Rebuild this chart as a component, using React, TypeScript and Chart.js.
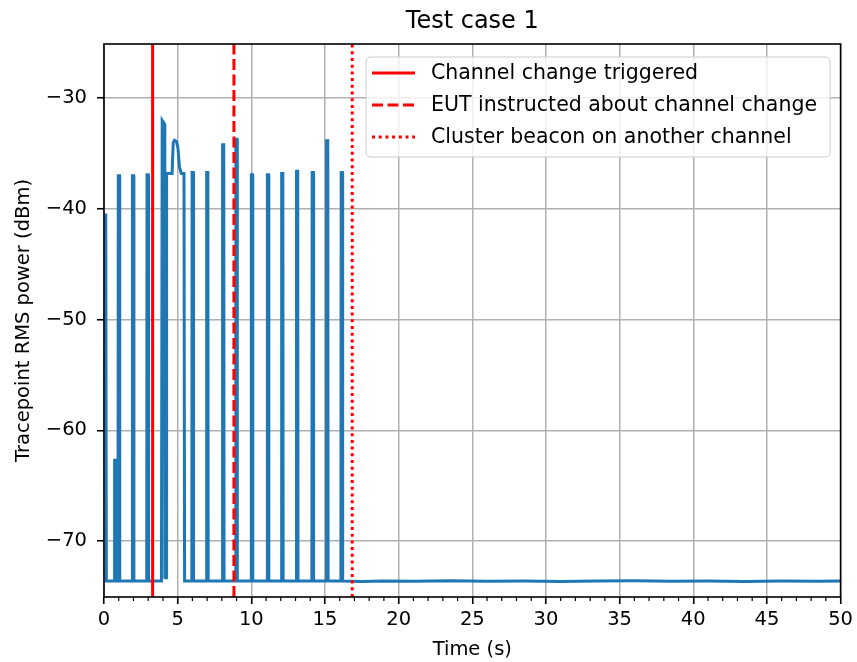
import React, { useEffect, useRef } from "react";
import { Chart, registerables } from "chart.js";

Chart.register(...registerables);

// ---- data ----
const traceTime = [
  0.12, 0.16, 0.70, 0.72, 0.79, 0.81,
  0.95, 0.97, 1.05, 1.07,
  1.91, 1.93, 2.01, 2.03,
  2.90, 2.92, 3.00, 3.02,
  3.90, 3.95, 4.10, 4.13, 4.17, 4.21, 4.25, 4.62, 4.70, 4.78, 4.92, 5.02, 5.12, 5.25, 5.43, 5.47,
  5.96, 5.98, 6.06, 6.08,
  6.95, 6.97, 7.05, 7.07,
  8.03, 8.05, 8.13, 8.15,
  8.93, 8.95, 9.03, 9.05,
  9.98, 10.00, 10.08, 10.10,
  11.07, 11.09, 11.17, 11.19,
  12.04, 12.06, 12.14, 12.16,
  13.05, 13.07, 13.15, 13.17,
  14.11, 14.13, 14.21, 14.23,
  15.09, 15.11, 15.19, 15.21,
  16.08, 16.10, 16.18, 16.20,
  17.5, 19.0, 21.0, 23.5, 26.0, 28.5, 31.0, 33.5, 36.0, 38.5, 41.0, 43.5, 46.0, 48.5, 50.0,
];
const tracePower = [
  -40.4, -73.6, -73.6, -62.7, -62.7, -73.6,
  -73.6, -37.0, -37.0, -73.6,
  -73.6, -37.0, -37.0, -73.6,
  -73.6, -36.9, -36.9, -73.6,
  -73.6, -32.0, -32.3, -73.4, -37.0, -73.3, -36.8, -36.8, -34.0, -33.8, -33.9, -34.5, -36.2, -36.8, -36.8, -73.6,
  -73.6, -36.7, -36.7, -73.6,
  -73.6, -36.7, -36.7, -73.6,
  -73.6, -34.2, -34.2, -73.6,
  -73.6, -33.7, -33.7, -73.6,
  -73.6, -36.9, -36.9, -73.6,
  -73.6, -36.9, -36.9, -73.6,
  -73.6, -36.8, -36.8, -73.6,
  -73.6, -36.6, -36.6, -73.6,
  -73.6, -36.7, -36.7, -73.6,
  -73.6, -33.85, -33.85, -73.6,
  -73.6, -36.7, -36.7, -73.6,
  -73.65, -73.6, -73.62, -73.58, -73.62, -73.6, -73.64, -73.6, -73.58, -73.62, -73.6, -73.64, -73.6, -73.62, -73.6,
];
const eventTimes = [3.3, 8.82, 16.85];
const eventLabels = [
  "Channel change triggered",
  "EUT instructed about channel change",
  "Cluster beacon on another channel",
];
const eventDashes: number[][] = [[], [11, 4.5], [3, 3.7]];
const xTicks = [0, 5, 10, 15, 20, 25, 30, 35, 40, 45, 50];
const xMinorTicks = [
  0, 1, 2, 3, 4, 5, 6, 7, 8, 9, 10, 11, 12, 13, 14, 15, 16, 17, 18, 19, 20, 21, 22, 23, 24, 25,
  26, 27, 28, 29, 30, 31, 32, 33, 34, 35, 36, 37, 38, 39, 40, 41, 42, 43, 44, 45, 46, 47, 48, 49, 50,
];
const yTicks = [-70, -60, -50, -40, -30];
const X_MIN = 0;
const X_MAX = 50;
const Y_MIN = -75.05;
const Y_MAX = -25.1;
const titleText = "Test case 1";
const xLabel = "Time (s)";
const yLabel = "Tracepoint RMS power (dBm)";

const FONT = '"DejaVu Sans", sans-serif';
const TRACE_COLOR = "#1f77b4";
const EVENT_COLOR = "#ff0000";

const decor = {
  id: "decor",
  beforeDraw(chart: any) {
    const { ctx, width, height } = chart;
    ctx.save();
    ctx.fillStyle = "#ffffff";
    ctx.fillRect(0, 0, width, height);
    ctx.restore();
  },
  afterDatasetsDraw(chart: any) {
    const { ctx, chartArea: a, scales } = chart;
    ctx.save();
    ctx.strokeStyle = "#000";
    ctx.lineWidth = 1.2;
    for (const v of xMinorTicks) {
      if (xTicks.includes(v)) continue;
      const px = scales.x.getPixelForValue(v);
      ctx.beginPath();
      ctx.moveTo(px, a.bottom);
      ctx.lineTo(px, a.bottom + 4);
      ctx.stroke();
    }
    ctx.lineWidth = 1.6;
    ctx.strokeRect(a.left, a.top, a.right - a.left, a.bottom - a.top);
    ctx.restore();
  },
  afterDraw(chart: any) {
    const { ctx, chartArea: a } = chart;
    ctx.save();
    ctx.fillStyle = "#000";
    // title
    ctx.font = `24px ${FONT}`;
    ctx.textAlign = "center";
    ctx.textBaseline = "middle";
    ctx.fillText(titleText, (a.left + a.right) / 2, 22);
    // x label
    ctx.font = `19.5px ${FONT}`;
    ctx.fillText(xLabel, (a.left + a.right) / 2, 650);
    // y label
    ctx.save();
    ctx.translate(24, (a.top + a.bottom) / 2);
    ctx.rotate(-Math.PI / 2);
    ctx.fillText(yLabel, 0, 0);
    ctx.restore();

    // legend
    const lx = 366, ly = 57, lw = 464, lh = 100, r = 5;
    ctx.beginPath();
    ctx.moveTo(lx + r, ly);
    ctx.lineTo(lx + lw - r, ly);
    ctx.quadraticCurveTo(lx + lw, ly, lx + lw, ly + r);
    ctx.lineTo(lx + lw, ly + lh - r);
    ctx.quadraticCurveTo(lx + lw, ly + lh, lx + lw - r, ly + lh);
    ctx.lineTo(lx + r, ly + lh);
    ctx.quadraticCurveTo(lx, ly + lh, lx, ly + lh - r);
    ctx.lineTo(lx, ly + r);
    ctx.quadraticCurveTo(lx, ly, lx + r, ly);
    ctx.closePath();
    ctx.fillStyle = "rgba(255,255,255,0.8)";
    ctx.fill();
    ctx.strokeStyle = "#cccccc";
    ctx.lineWidth = 1;
    ctx.stroke();

    const rows = [73, 105, 137];
    eventLabels.forEach((label, i) => {
      const y = rows[i];
      ctx.save();
      ctx.strokeStyle = EVENT_COLOR;
      ctx.lineWidth = 3;
      ctx.setLineDash(eventDashes[i]);
      ctx.beginPath();
      ctx.moveTo(372, y);
      ctx.lineTo(415, y);
      ctx.stroke();
      ctx.restore();
      ctx.fillStyle = "#000";
      ctx.font = `20.5px ${FONT}`;
      ctx.textAlign = "left";
      ctx.textBaseline = "middle";
      ctx.fillText(label, 431, y + 1);
    });
    ctx.restore();
  },
};

export default function App() {
  const canvasRef = useRef<HTMLCanvasElement | null>(null);

  useEffect(() => {
    const canvas = canvasRef.current;
    if (!canvas) return;

    const tracePoints = traceTime.map((t, i) => ({ x: t, y: tracePower[i] }));
    const eventSets = eventTimes.map((t, i) => ({
      label: eventLabels[i],
      data: [
        { x: t, y: Y_MIN },
        { x: t, y: Y_MAX },
      ],
      borderColor: EVENT_COLOR,
      borderWidth: 3,
      borderDash: eventDashes[i],
      pointRadius: 0,
      fill: false,
      order: 1,
    }));

    const chart = new Chart(canvas, {
      type: "line",
      data: {
        datasets: [
          {
            label: "trace",
            data: tracePoints,
            borderColor: TRACE_COLOR,
            borderWidth: 3,
            pointRadius: 0,
            tension: 0,
            fill: false,
            order: 2,
          },
          ...eventSets,
        ],
      },
      options: {
        responsive: false,
        animation: false,
        devicePixelRatio: 1,
        layout: { padding: { left: 0, right: 12, top: 44, bottom: 0 } },
        plugins: {
          legend: { display: false },
          title: { display: false },
          tooltip: { enabled: false },
        },
        scales: {
          x: {
            type: "linear",
            min: X_MIN,
            max: X_MAX,
            afterBuildTicks: (scale: any) => {
              scale.ticks = xTicks.map((v) => ({ value: v }));
            },
            afterFit: (scale: any) => {
              scale.height = 65;
            },
            border: { display: false },
            grid: {
              color: "#b0b0b0",
              lineWidth: 1.5,
              drawTicks: true,
              tickLength: 7,
              tickWidth: 1.6,
              tickColor: "#000",
            },
            ticks: {
              color: "#000",
              font: { family: FONT, size: 19.5 },
              padding: 4,
              maxRotation: 0,
              autoSkip: false,
              callback: (v: any) => String(v),
            },
          },
          y: {
            type: "linear",
            min: Y_MIN,
            max: Y_MAX,
            afterBuildTicks: (scale: any) => {
              scale.ticks = yTicks.map((v) => ({ value: v }));
            },
            afterFit: (scale: any) => {
              scale.width = 104;
            },
            border: { display: false },
            grid: {
              color: "#b0b0b0",
              lineWidth: 1.5,
              drawTicks: true,
              tickLength: 7,
              tickWidth: 1.6,
              tickColor: "#000",
            },
            ticks: {
              color: "#000",
              font: { family: FONT, size: 19.5 },
              padding: 10,
              autoSkip: false,
              callback: (v: any) => String(v).replace("-", "\u2212"),
            },
          },
        },
      },
      plugins: [decor],
    });

    return () => {
      chart.destroy();
    };
  }, []);

  return (
    <div style={{ position: "absolute", left: 0, top: 0, width: 857, height: 662 }}>
      <canvas ref={canvasRef} width={857} height={662} style={{ width: 857, height: 662, display: "block" }} />
    </div>
  );
}
